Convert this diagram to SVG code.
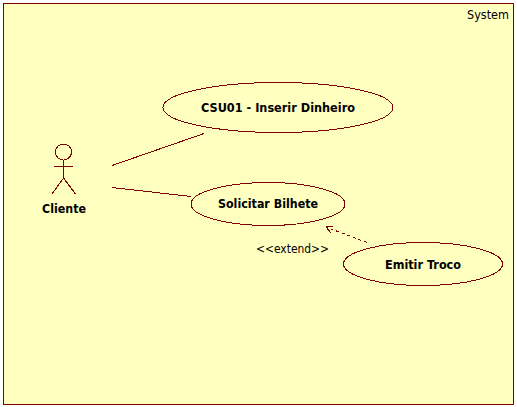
<svg xmlns="http://www.w3.org/2000/svg" width="517" height="407" viewBox="0 0 517 407">
<style>
.s{fill:none;stroke:#800000;stroke-width:1;shape-rendering:crispEdges}
.u{fill:#ffffc0;stroke:#800000;stroke-width:1;shape-rendering:crispEdges}
.b{font-family:"DejaVu Sans",Verdana,sans-serif;font-size:11.500px;font-weight:bold;fill:#000;text-anchor:middle}
.t{font-family:"DejaVu Sans",sans-serif;font-size:11.500px;fill:#000}
</style>
<g id="system">
<rect class="u" x="3.500" y="3.500" width="510" height="401"/>
<text class="t" x="509" y="19" text-anchor="end" textLength="42" lengthAdjust="spacingAndGlyphs">System</text>
</g>
<g id="connectors">
<line class="s" x1="112" y1="165.500" x2="204" y2="133.500"/>
<line class="s" x1="112" y1="187.500" x2="191" y2="196.500"/>
<path class="s" stroke-dasharray="3 3" d="M367 242.500 L326 227"/>
<path class="s" d="M333 226 L326 227 L331 233"/>
<text class="t" x="256" y="253" textLength="73" lengthAdjust="spacingAndGlyphs">&lt;&lt;extend&gt;&gt;</text>
</g>
<g id="actor-cliente">
<circle class="s" cx="63.500" cy="152" r="8"/>
<path class="s" d="M63.500 160V178M54 166.500H73M63.500 178L52 194M63.500 178L75.500 194"/>
<text class="b" x="64" y="213" textLength="44" lengthAdjust="spacingAndGlyphs">Cliente</text>
</g>
<g id="uc-csu01">
<ellipse class="u" cx="278" cy="107.500" rx="115" ry="25"/>
<text class="b" x="278" y="112" textLength="154" lengthAdjust="spacingAndGlyphs">CSU01 - Inserir Dinheiro</text>
</g>
<g id="uc-solicitar">
<ellipse class="u" cx="268" cy="204" rx="77" ry="21.500"/>
<text class="b" x="268" y="208" textLength="100" lengthAdjust="spacingAndGlyphs">Solicitar Bilhete</text>
</g>
<g id="uc-emitir">
<ellipse class="u" cx="423" cy="264" rx="79.500" ry="21.500"/>
<text class="b" x="423" y="269" textLength="76" lengthAdjust="spacingAndGlyphs">Emitir Troco</text>
</g>
</svg>
